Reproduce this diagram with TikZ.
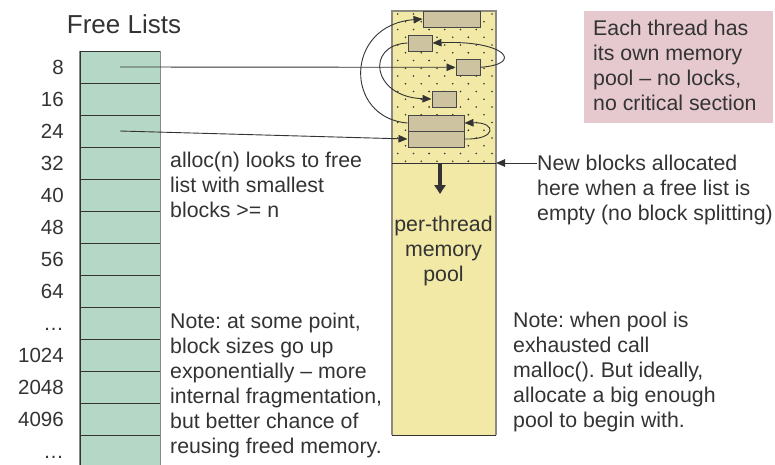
\documentclass[tikz,border=0pt]{standalone}
\usepackage{fontspec}
\setmainfont{Liberation Sans}
\usetikzlibrary{arrows.meta}
\frenchspacing
\definecolor{ink}{HTML}{333333}
\definecolor{listgreen}{HTML}{B5D8C6}
\definecolor{poolyellow}{HTML}{F2E9A6}
\definecolor{blocktan}{HTML}{CEC3A0}
\definecolor{notepink}{HTML}{E5C9CF}
\definecolor{edgegrey}{HTML}{8A8A80}

\begin{document}
\begin{tikzpicture}[x=1pt,y=-1pt,
  txt/.style={font=\fontsize{21.3}{25}\selectfont, text=ink, inner sep=0pt, align=left, anchor=north west},
  numlab/.style={font=\fontsize{20.5}{24}\selectfont, text=ink, inner sep=0pt, anchor=base east},
  cell/.style={draw=ink, line width=0.8pt, fill=listgreen, minimum width=80pt, minimum height=32pt, inner sep=0pt},
  blk/.style={draw=ink!90, line width=1pt, fill=blocktan, minimum height=16pt, inner sep=0pt},
  pool/.style={fill=poolyellow, minimum width=104pt, minimum height=424pt, inner sep=0pt},
  link/.style={draw=ink, line width=0.9pt, -{Triangle[length=9pt,width=7.5pt]}},
]
\useasboundingbox (0,0) rectangle (775,464);

% ---- free lists column ----
\node[font=\fontsize{26}{30}\selectfont, text=ink, inner sep=0pt] (title) at (124,24) {Free Lists};
\foreach \lab [count=\i from 0] in {8,16,24,32,40,48,56,64,…,1024,2048,4096,…}{
  \node[cell] (l\i) at (120,{67+32*\i}) {};
  \node[numlab] (n\i) at (64,{74.5+32*\i}) {\lab};
}
\draw[edgegrey, line width=1pt] (l0.north west) -- (l12.south west);
\draw[edgegrey, line width=1pt] (l0.north east) -- (l12.south east);

% ---- per-thread memory pool ----
\node[pool] (pool) at (444,223) {};
\coordinate (bndL) at (392,163);
\coordinate (bnd) at (496,163);
\begin{scope}
  \clip (pool.north west) rectangle (bnd);
  \foreach \r in {0,...,19}{
    \foreach \c in {0,...,7}{
      \fill[ink] ({397.7+15.7*\c-7.85*mod(\r,2)},{14+7.75*\r}) circle (0.9);
    }
  }
\end{scope}
\draw[edgegrey, line width=1.5pt] (pool.south west) -- (pool.north west) -- (pool.north east) -- (pool.south east);
\draw[ink, line width=1.2pt] (pool.south west) -- (pool.south east);
\draw[ink, line width=1pt] (bndL) -- (bnd);

% blocks inside the pool
\node[blk, minimum width=57pt] (A) at (451.5,19) {};
\node[blk, minimum width=24pt] (B) at (420,43) {};
\node[blk, minimum width=24pt] (C) at (468,67.3) {};
\node[blk, minimum width=24pt] (D) at (444,99) {};
\node[blk, minimum width=56pt] (Eu) at (436,123) {};
\node[blk, minimum width=56pt] (El) at (436,139) {};

% free-list chains
\draw[link] (l0.center) -- (C.west);
\draw[link] (C.east) .. controls (525,64) and (505,40) .. (B.east);
\draw[link] (B.west) .. controls (365,45) and (372,97) .. (D.west);
\draw[link] (l2.center) -- (El.west);
\draw[link] (El.east) .. controls (497,140) and (497,122) .. (Eu.east);
\draw[link] (Eu.west) .. controls (344,118) and (344,25) .. (A.west);

% growth of the pool
\coordinate (growtop) at (440,163);
\coordinate (growend) at (440,194);
\draw[ink, line width=4pt, -{Triangle[length=9pt,width=11pt]}] (growtop) -- (growend);
\node[txt, align=center, anchor=north] (pooltxt) at (443.5,215.5) {per-thread\\memory\\pool};

% ---- annotations ----
\node[txt] (alloc) at (170,151.5) {alloc(n) looks to free\\list with smallest\\blocks >= n};
\node[txt] (note1) at (170,313) {Note: at some point,\\block sizes go up\\exponentially – more\\internal fragmentation,\\but better chance of\\reusing freed memory.};
\node[txt] (newtxt) at (537,155) {New blocks allocated\\here when a free list is\\empty (no block splitting)};
\coordinate (newstart) at (537,163);
\draw[link] (newstart) -- (bnd);
\node[txt] (note2) at (513,311.5) {Note: when pool is\\exhausted call\\malloc(). But ideally,\\allocate a big enough\\pool to begin with.};

\node[fill=notepink, minimum width=189pt, minimum height=112pt, inner sep=0pt] (pink) at (678.5,67) {};
\node[txt] (pinktxt) at (593,20) {Each thread has\\its own memory\\pool – no locks,\\no critical section};
\end{tikzpicture}
\end{document}
